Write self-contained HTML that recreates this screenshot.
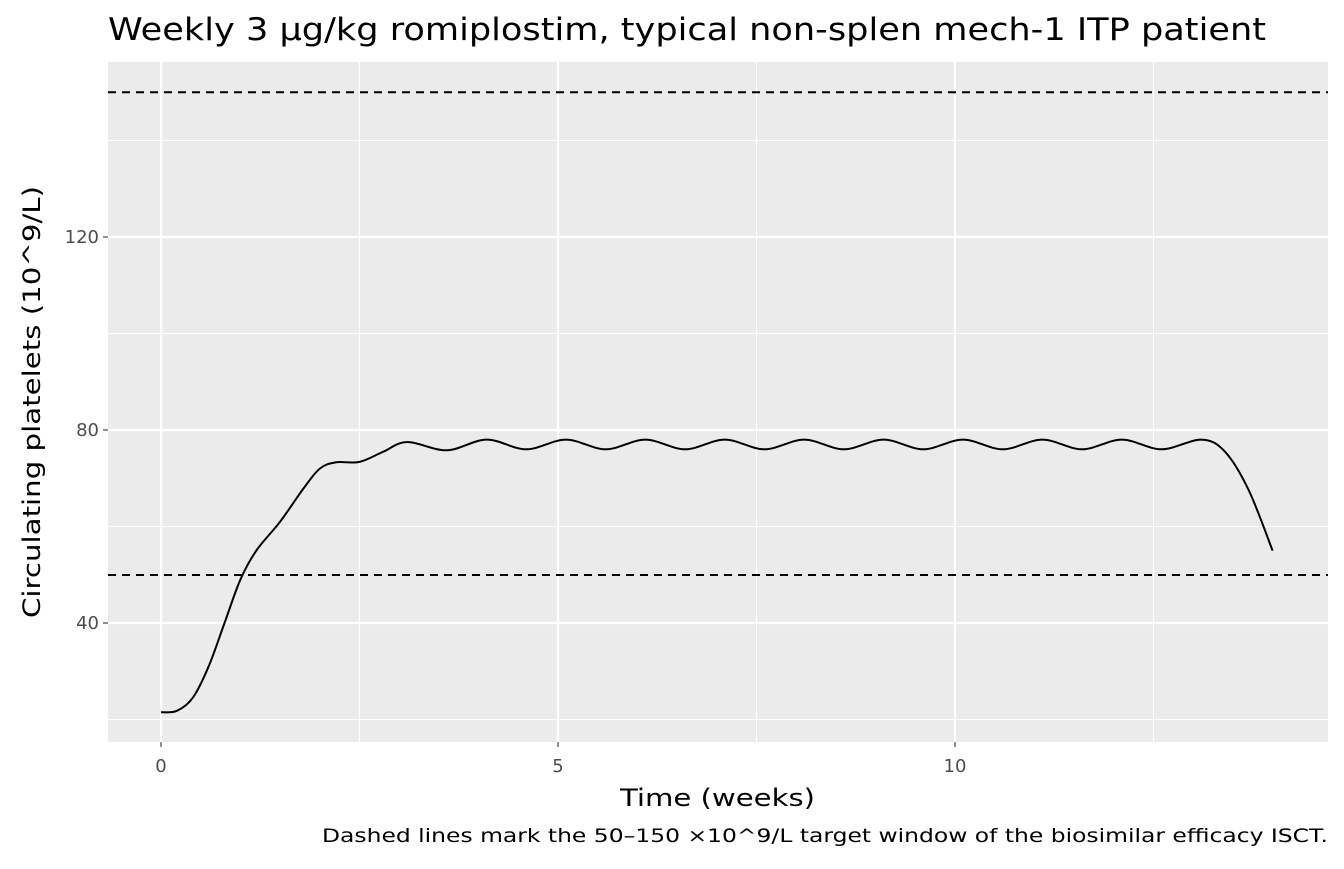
<!DOCTYPE html>
<html><head><meta charset="utf-8"><style>
body{margin:0;background:#fff;}
text{font-family:"DejaVu Sans","Liberation Sans",sans-serif;}
</style></head><body>
<svg id="s" width="1344" height="864" xmlns="http://www.w3.org/2000/svg">
<rect width="1344" height="864" fill="#fff"/>
<rect x="108" y="62" width="1220" height="680" fill="#ebebeb"/>
<g stroke="#fff" stroke-width="1.1">
<line x1="108" x2="1328" y1="719.5" y2="719.5"/>
<line x1="108" x2="1328" y1="526.5" y2="526.5"/>
<line x1="108" x2="1328" y1="333.5" y2="333.5"/>
<line x1="108" x2="1328" y1="140.5" y2="140.5"/>
<line y1="62" y2="742" x1="359.5" x2="359.5"/>
<line y1="62" y2="742" x1="756.5" x2="756.5"/>
<line y1="62" y2="742" x1="1153.5" x2="1153.5"/>
</g>
<g stroke="#fff" stroke-width="2.2">
<line x1="108" x2="1328" y1="623" y2="623"/>
<line x1="108" x2="1328" y1="430" y2="430"/>
<line x1="108" x2="1328" y1="237" y2="237"/>
<line y1="62" y2="742" x1="161" x2="161"/>
<line y1="62" y2="742" x1="558" x2="558"/>
<line y1="62" y2="742" x1="955" x2="955"/>
</g>
<g stroke="#000" stroke-width="2" stroke-dasharray="8,6">
<line x1="108" x2="1328" y1="92.3" y2="92.3"/>
<line x1="108" x2="1328" y1="575" y2="575"/>
</g>
<path id="c" fill="none" stroke="#000" stroke-width="2"/>
<g stroke="#333" stroke-width="1.1">
<line x1="103" x2="108" y1="623" y2="623"/><line x1="103" x2="108" y1="430" y2="430"/><line x1="103" x2="108" y1="237" y2="237"/>
<line y1="742" y2="747" x1="161" x2="161"/><line y1="742" y2="747" x1="558" x2="558"/><line y1="742" y2="747" x1="955" x2="955"/>
</g>
<g font-size="18" fill="#4d4d4d" text-anchor="end">
<text x="99" y="629">40</text><text x="99" y="436">80</text><text x="99" y="243">120</text>
</g>
<g font-size="18" fill="#4d4d4d" text-anchor="middle">
<text x="161" y="772">0</text><text x="558" y="772">5</text><text x="955" y="772">10</text>
</g>
<text x="620" y="806" font-size="24" textLength="195" lengthAdjust="spacingAndGlyphs">Time (weeks)</text>
<text transform="translate(40,618) rotate(-90)" font-size="24" textLength="432" lengthAdjust="spacingAndGlyphs">Circulating platelets (10^9/L)</text>
<text x="108" y="40" font-size="31" textLength="1158" lengthAdjust="spacingAndGlyphs">Weekly 3 µg/kg romiplostim, typical non-splen mech-1 ITP patient</text>
<text x="322" y="842" font-size="19" textLength="1006" lengthAdjust="spacingAndGlyphs">Dashed lines mark the 50–150 ×10^9/L target window of the biosimilar efficacy ISCT.</text>
</svg>
<script>
var pts=[[0,21.5],[0.2,21.8],[0.4,24.5],[0.6,31],[0.8,40],[1.0,49],[1.2,55],[1.5,61],[1.8,68],[2.0,72],[2.2,73.3],[2.5,73.4],[2.8,75.5],[3.1,77.5],[3.6,75.8]];
for(var k=4;k<=13;k++){pts.push([k+0.1,78]);if(k<13)pts.push([k+0.6,76]);}
pts.push([13.4,75.5],[13.7,67.5],[14.0,55]);
function X(t){return 161+t*79.4;}function Y(v){return 430-(v-80)*4.825;}
var d="M"+X(pts[0][0])+","+Y(pts[0][1]);
for(var i=0;i<pts.length-1;i++){var p0=pts[Math.max(0,i-1)],p1=pts[i],p2=pts[i+1],p3=pts[Math.min(pts.length-1,i+2)];
var c1=[p1[0]+(p2[0]-p0[0])/6,p1[1]+(p2[1]-p0[1])/6],c2=[p2[0]-(p3[0]-p1[0])/6,p2[1]-(p3[1]-p1[1])/6];
d+=" C"+X(c1[0])+","+Y(c1[1])+" "+X(c2[0])+","+Y(c2[1])+" "+X(p2[0])+","+Y(p2[1]);}
document.getElementById("c").setAttribute("d",d);
</script>
</body></html>
